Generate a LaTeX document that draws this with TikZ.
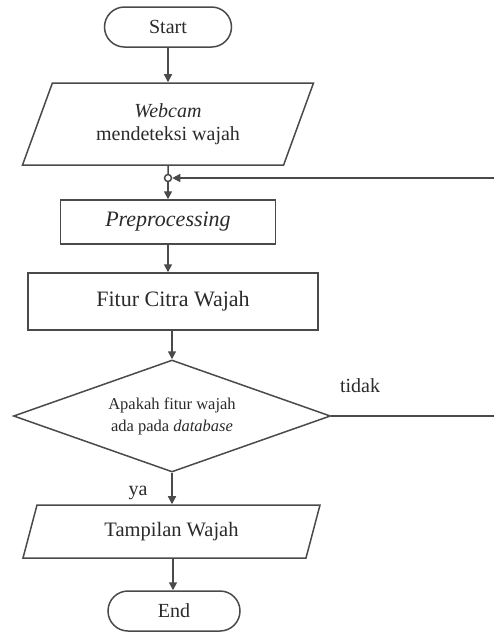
\documentclass[tikz,border=0pt]{standalone}
\usepackage{fontspec}
\setmainfont{Liberation Serif}
\usetikzlibrary{shapes.geometric,shapes.misc,arrows.meta}
\definecolor{ln}{HTML}{4A4A4A}
\definecolor{tx}{HTML}{2A2A2A}
\begin{document}
\begin{tikzpicture}[x=1pt,y=-1pt,
 every node/.style={text=tx, font=\fontsize{20}{23}\selectfont},
 line/.style={draw=ln, line width=1.5pt},
 arr/.style={line, -{Triangle[length=8pt,width=8pt]}},
 term/.style={line, rounded rectangle, minimum width=127pt, minimum height=40pt, inner sep=0pt},
 io/.style={line, trapezium, trapezium stretches body, inner sep=0pt, align=center},
 proc/.style={line, rectangle, inner sep=0pt, align=center},
 dec/.style={line, diamond, inner sep=0pt, align=center}]
\useasboundingbox (0,0) rectangle (494,633);
\clip (0,0) rectangle (494,633);

\node[term] (start) at (168,27) {Start};
\node[io, trapezium left angle=54, trapezium right angle=126, minimum width=291pt, minimum height=82pt] (cam) at (168,124) {\textit{Webcam}\\mendeteksi wajah};
\node[circle, line, inner sep=0pt, minimum size=7pt] (j) at (168,178) {};
\node[proc, minimum width=215pt, minimum height=44pt, font=\fontsize{22}{25}\selectfont] (pre) at (168,222) {\textit{Preprocessing}};
\node[proc, minimum width=290pt, minimum height=57pt, font=\fontsize{22}{25}\selectfont] (fit) at (173,301.5) {\raisebox{6pt}{Fitur Citra Wajah}};
\node[dec, aspect=2.83, minimum width=317pt, minimum height=112pt, font=\fontsize{16.5}{22}\selectfont] (dec) at (172,416) {Apakah fitur wajah\\ada pada \textit{database}};
\node[io, trapezium left angle=53, trapezium right angle=127, minimum width=297pt, minimum height=53pt, font=\fontsize{20.5}{23}\selectfont] (tam) at (171.5,531.5) {Tampilan Wajah};
\node[term, minimum width=132pt] (end) at (174,611) {End};

\node (tidak) at (360,386) {tidak};
\node (ya) at (138,493) {ya};

\coordinate (r1) at (498,416);
\coordinate (r2) at (498,178);

\draw[arr] (start.south) -- (start.south |- cam.north);
\draw[line] (cam.south) -- (j.north);
\draw[arr] (j.south) -- (pre.north);
\draw[arr] (pre.south) -- (pre.south |- fit.north);
\draw[arr] (fit.south -| dec.north) -- (dec.north);
\draw[arr] (dec.south) -- (dec.south |- tam.north);
\draw[arr] (tam.south -| 173,0) -- (173,0 |- end.north);
\draw[arr] (dec.east) -- (r1) -- (r2) -- (j.east);
\end{tikzpicture}
\end{document}
